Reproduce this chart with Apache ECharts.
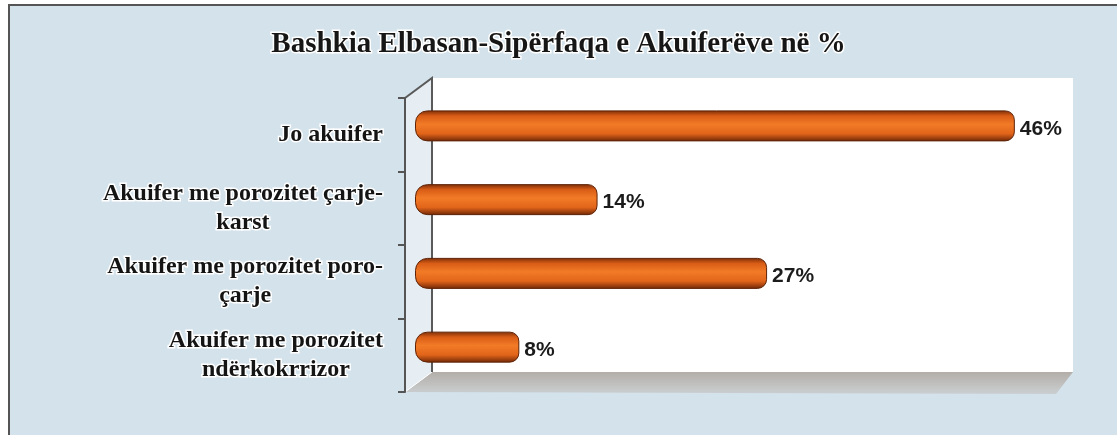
<!DOCTYPE html>
<html>
<head>
<meta charset="utf-8">
<script src="https://cdn.jsdelivr.net/npm/echarts@6/dist/echarts.min.js"></script>
<style>
  html, body { margin: 0; padding: 0; background: #fff; }
  #chart { width: 1117px; height: 435px; }
</style>
</head>
<body>
<div id="chart"></div>
<script>
var titleText = 'Bashkia Elbasan-Sipërfaqa e Akuiferëve në %';
var categories = [
    'Jo akuifer',
    'Akuifer me porozitet çarje-\nkarst',
    'Akuifer me porozitet poro-\nçarje',
    'Akuifer me porozitet\nndërkokrrizor'
];
var values = [46, 14, 27, 8];
var valueMax = 50;

// front plane of the 3d box and depth shift of the back wall
var front = { left: 405, top: 98, right: 1046, bottom: 392 };
var depth = { x: 27, y: -20 };
var back = {
    left: front.left + depth.x, top: front.top + depth.y,
    right: front.right + depth.x, bottom: front.bottom + depth.y
};

var myChart = echarts.init(document.getElementById('chart'));

var barGradient = new echarts.graphic.LinearGradient(0, 0, 0, 1, [
    { offset: 0, color: '#7a2c08' },
    { offset: 0.18, color: '#d95d16' },
    { offset: 0.45, color: '#f27b27' },
    { offset: 0.75, color: '#e2651a' },
    { offset: 1, color: '#6e2606' }
]);

var option = {
    backgroundColor: '#fff',
    title: {
        text: titleText,
        left: 'center',
        top: 30,
        padding: 0,
        textStyle: {
            fontFamily: 'Liberation Serif',
            fontSize: 29,
            fontWeight: 'bold',
            color: '#161616',
            textBorderColor: '#fff',
            textBorderWidth: 3
        }
    },
    graphic: [
        // panel background, frame only on left and top
        { type: 'rect', z: -20, shape: { x: 9, y: 5, width: 1200, height: 500 },
          style: { fill: '#d3e2eb' } },
        { type: 'polyline', z: -19, shape: { points: [[9, 440], [9, 5], [1117, 5]] },
          style: { stroke: '#555', lineWidth: 2, fill: null } },
        // back wall
        { type: 'rect', z: -10, shape: { x: back.left, y: back.top, width: back.right - back.left, height: back.bottom - back.top },
          style: { fill: '#fff' } },
        // floor
        { type: 'polygon', z: -10,
          shape: { points: [[front.left, front.bottom], [back.left, back.bottom], [back.right, back.bottom], [front.right + 10, front.bottom + 2]] },
          style: { fill: new echarts.graphic.LinearGradient(0, 0, 0, 1, [
              { offset: 0, color: '#b3aea9' }, { offset: 1, color: '#cbcfd1' }]) } },
        // side wall
        { type: 'polygon', z: -10,
          shape: { points: [[front.left, front.top], [back.left, back.top], [back.left, back.bottom], [front.left, front.bottom]] },
          style: { fill: '#e6eef3', stroke: '#fff', lineWidth: 1 } },
        { type: 'polyline', z: -5,
          shape: { points: [[front.left, front.top], [back.left, back.top], [back.left, back.bottom]] },
          style: { stroke: '#5a5a5a', lineWidth: 2, fill: null } }
    ],
    grid: [
        { left: front.left + 10, top: front.top - 9, width: 652, height: front.bottom - front.top + 1 },
        { left: front.left, top: front.top, width: front.right - front.left, height: front.bottom - front.top }
    ],
    xAxis: [
        { gridIndex: 0, type: 'value', min: 0, max: valueMax, show: false },
        { gridIndex: 1, type: 'value', min: 0, max: valueMax, show: false }
    ],
    yAxis: [
        { gridIndex: 0, type: 'category', inverse: true, data: categories, show: false },
        {
            gridIndex: 1, type: 'category', inverse: true, data: categories,
            axisLine: { show: true, lineStyle: { color: '#555', width: 2 } },
            axisTick: { show: true, length: 7, lineStyle: { color: '#555', width: 2 } },
            axisLabel: {
                margin: 22,
                formatter: function (v) {
                    return v.split('\n').map(function (s) { return '{c|' + s + '}'; }).join('\n');
                },
                rich: {
                    c: {
                        align: 'center',
                        fontFamily: 'Liberation Serif',
                        fontSize: 24,
                        fontWeight: 'bold',
                        lineHeight: 29,
                        color: '#141414',
                        textBorderColor: '#fff',
                        textBorderWidth: 3
                    }
                }
            }
        }
    ],
    series: [{
        type: 'bar',
        xAxisIndex: 0,
        yAxisIndex: 0,
        data: values,
        barWidth: 31,
        itemStyle: {
            color: barGradient,
            borderColor: '#5e2206',
            borderWidth: 1,
            borderRadius: [12, 9, 9, 12]
        },
        label: {
            show: true,
            position: 'right',
            distance: 5,
            offset: [0, 3],
            formatter: '{c}%',
            fontFamily: 'Liberation Sans',
            fontSize: 21,
            fontWeight: 'bold',
            color: '#1c1c1c'
        }
    }]
};

myChart.setOption(option);
</script>
</body>
</html>
